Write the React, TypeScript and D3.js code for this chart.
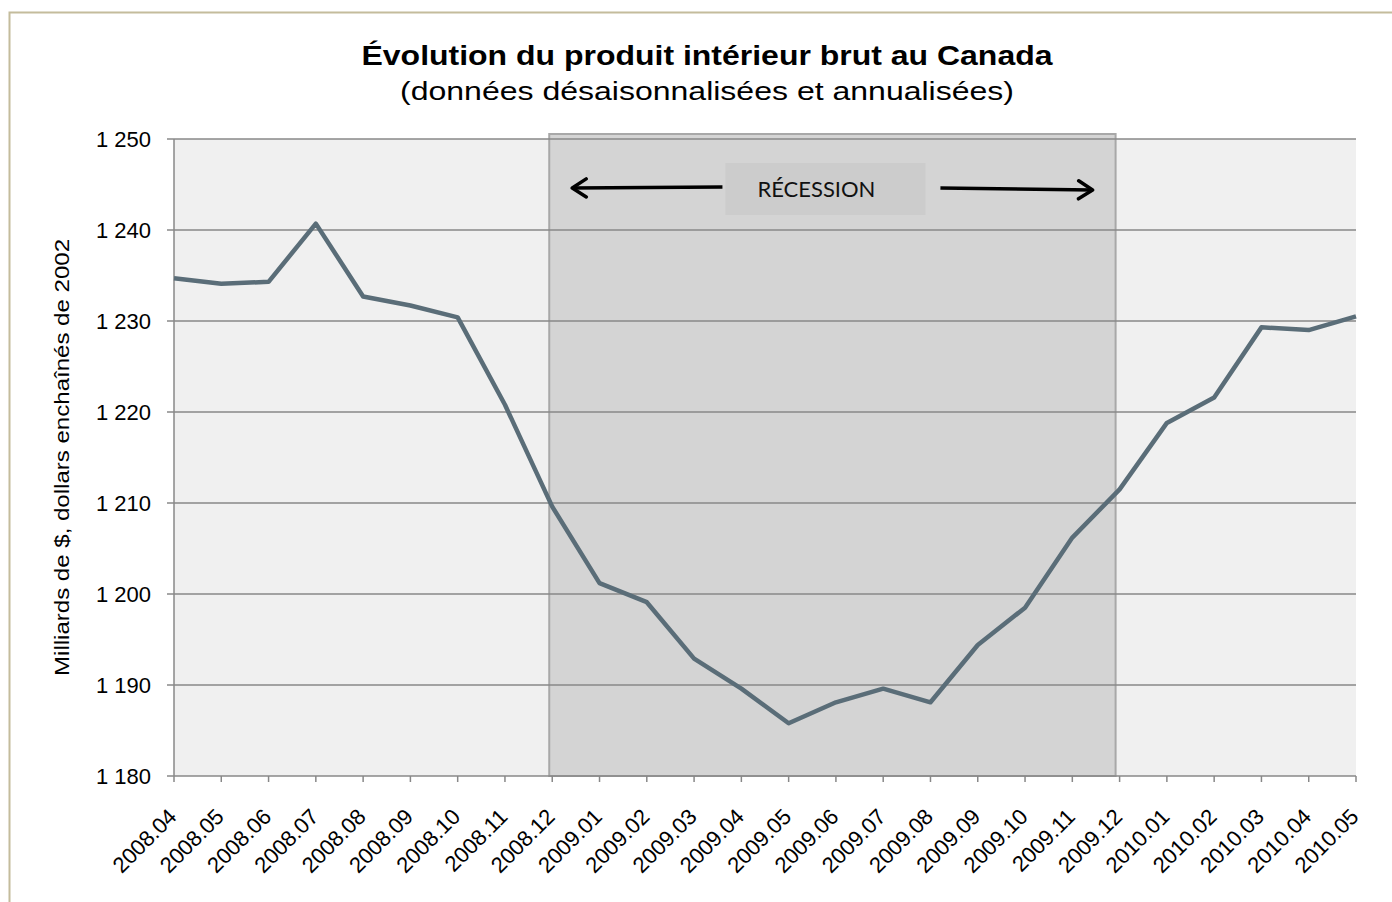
import React, { useEffect, useRef } from 'react';
import * as d3 from 'd3';

// Months shown on the category axis
const months = [
  '2008.04', '2008.05', '2008.06', '2008.07', '2008.08', '2008.09', '2008.10',
  '2008.11', '2008.12', '2009.01', '2009.02', '2009.03', '2009.04', '2009.05',
  '2009.06', '2009.07', '2009.08', '2009.09', '2009.10', '2009.11', '2009.12',
  '2010.01', '2010.02', '2010.03', '2010.04', '2010.05',
];

// GDP, billions of chained 2002 dollars
const gdp = [
  1234.7, 1234.1, 1234.3, 1240.7, 1232.7, 1231.7, 1230.4,
  1220.8, 1209.6, 1201.2, 1199.1, 1192.9, 1189.6, 1185.8,
  1188.1, 1189.6, 1188.1, 1194.4, 1198.5, 1206.2, 1211.5,
  1218.8, 1221.6, 1229.3, 1229.0, 1230.5,
];

const yTicks = [1180, 1190, 1200, 1210, 1220, 1230, 1240, 1250];
const recession = ['2008.12', '2009.12'];

const title = 'Évolution du produit intérieur brut au Canada';
const subtitle = '(données désaisonnalisées et annualisées)';
const yTitle = 'Milliards de $, dollars enchaînés de 2002';
const recessionLabel = 'RÉCESSION';

const App = () => {
  const chartRef = useRef<SVGSVGElement>(null);

  useEffect(() => {
    const width = 1392;
    const height = 902;
    const marginLeft = 174;
    const marginRight = 36;
    const marginTop = 139;
    const marginBottom = 126;
    const font = 'Liberation Sans, Arial, sans-serif';

    const svg = d3.select(chartRef.current);
    svg.selectAll('*').remove();
    svg.attr('width', width).attr('height', height);

    const x = d3.scalePoint<string>()
      .domain(months)
      .range([marginLeft, width - marginRight]);

    const y = d3.scaleLinear()
      .domain([1180, 1250])
      .range([height - marginBottom, marginTop]);

    // outer frame
    svg.append('rect')
      .attr('x', 9.5).attr('y', 12.5)
      .attr('width', width + 20).attr('height', height + 20)
      .attr('fill', '#fff')
      .attr('stroke', '#c4bc9c')
      .attr('stroke-width', 2);

    // plot background
    svg.append('rect')
      .attr('x', marginLeft).attr('y', marginTop)
      .attr('width', width - marginRight - marginLeft)
      .attr('height', height - marginBottom - marginTop)
      .attr('fill', '#f0f0f0');

    // recession band
    const rx0 = x(recession[0])! - 3;
    const rx1 = x(recession[1])! - 4;
    svg.append('rect')
      .attr('x', rx0).attr('y', marginTop - 5)
      .attr('width', rx1 - rx0)
      .attr('height', height - marginBottom - marginTop + 5)
      .attr('fill', '#d4d4d4')
      .attr('stroke', '#a8a8a8')
      .attr('stroke-width', 2);

    // gridlines
    svg.append('g')
      .selectAll('line')
      .data(yTicks)
      .join('line')
        .attr('x1', marginLeft - 7)
        .attr('x2', width - marginRight)
        .attr('y1', d => y(d))
        .attr('y2', d => y(d))
        .attr('stroke', '#888')
        .attr('stroke-width', 1.5);

    // y axis line
    svg.append('line')
      .attr('x1', marginLeft).attr('x2', marginLeft)
      .attr('y1', marginTop).attr('y2', height - marginBottom)
      .attr('stroke', '#888').attr('stroke-width', 1.5);

    // x ticks
    svg.append('g')
      .selectAll('line')
      .data(months)
      .join('line')
        .attr('x1', d => x(d)!)
        .attr('x2', d => x(d)!)
        .attr('y1', height - marginBottom)
        .attr('y2', height - marginBottom + 6)
        .attr('stroke', '#888')
        .attr('stroke-width', 1.5);

    // y tick labels
    svg.append('g')
      .selectAll('text')
      .data(yTicks)
      .join('text')
        .attr('x', marginLeft - 23)
        .attr('y', d => y(d))
        .attr('dy', '0.36em')
        .attr('text-anchor', 'end')
        .style('font-family', font)
        .style('font-size', '22px')
        .text(d => d3.format(',')(d).replace(',', ' '));

    // x tick labels
    svg.append('g')
      .selectAll('text')
      .data(months)
      .join('text')
        .attr('transform', d => `translate(${x(d)! + 4},${height - marginBottom + 42}) rotate(-45)`)
        .attr('text-anchor', 'end')
        .style('font-family', font)
        .style('font-size', '22px')
        .text(d => d);

    // recession label box and arrows
    const cx = (rx0 + rx1) / 2;
    svg.append('rect')
      .attr('x', cx - 107).attr('y', 163)
      .attr('width', 200).attr('height', 52)
      .attr('fill', '#cccccc');
    svg.append('text')
      .attr('x', cx - 16).attr('y', 189)
      .attr('dy', '0.36em')
      .attr('text-anchor', 'middle')
      .attr('textLength', 118)
      .attr('lengthAdjust', 'spacingAndGlyphs')
      .style('font-family', 'Lato, Open Sans, sans-serif')
      .style('font-size', '22px')
      .attr('fill', '#111')
      .text(recessionLabel);

    const defs = svg.append('defs');
    defs.append('marker')
      .attr('id', 'arrow')
      .attr('viewBox', '0 0 20 24')
      .attr('refX', 18).attr('refY', 12)
      .attr('markerWidth', 20).attr('markerHeight', 24)
      .attr('orient', 'auto')
      .attr('markerUnits', 'userSpaceOnUse')
      .append('path')
        .attr('d', 'M4,3 L18,12 L4,21')
        .attr('fill', 'none')
        .attr('stroke', '#000')
        .attr('stroke-width', 3.5)
        .attr('stroke-linecap', 'round')
        .attr('stroke-linejoin', 'round');

    svg.append('line')
      .attr('x1', cx - 110).attr('y1', 187)
      .attr('x2', rx0 + 23).attr('y2', 188)
      .attr('stroke', '#000').attr('stroke-width', 3.5)
      .attr('marker-end', 'url(#arrow)');
    svg.append('line')
      .attr('x1', cx + 108).attr('y1', 188)
      .attr('x2', rx1 - 23).attr('y2', 190)
      .attr('stroke', '#000').attr('stroke-width', 3.5)
      .attr('marker-end', 'url(#arrow)');

    // GDP line
    const line = d3.line<number>()
      .x((d, i) => x(months[i])!)
      .y(d => y(d));

    svg.append('path')
      .datum(gdp)
      .attr('d', line)
      .attr('fill', 'none')
      .attr('stroke', '#5a6d78')
      .attr('stroke-width', 4.5)
      .attr('stroke-linejoin', 'round');

    // titles
    svg.append('text')
      .attr('x', 707).attr('y', 65)
      .attr('text-anchor', 'middle')
      .attr('textLength', 691)
      .attr('lengthAdjust', 'spacingAndGlyphs')
      .style('font-family', font)
      .style('font-size', '27px')
      .style('font-weight', 'bold')
      .text(title);
    svg.append('text')
      .attr('x', 707).attr('y', 100)
      .attr('text-anchor', 'middle')
      .attr('textLength', 614)
      .attr('lengthAdjust', 'spacingAndGlyphs')
      .style('font-family', font)
      .style('font-size', '26px')
      .text(subtitle);

    svg.append('text')
      .attr('transform', `translate(69,${(marginTop + height - marginBottom) / 2}) rotate(-90)`)
      .attr('text-anchor', 'middle')
      .attr('textLength', 437)
      .attr('lengthAdjust', 'spacingAndGlyphs')
      .style('font-family', font)
      .style('font-size', '21px')
      .text(yTitle);
  }, []);

  return (
    <div style={{ position: 'absolute', left: 0, top: 0 }}>
      <svg ref={chartRef} style={{ display: 'block' }}></svg>
    </div>
  );
};

export default App;
